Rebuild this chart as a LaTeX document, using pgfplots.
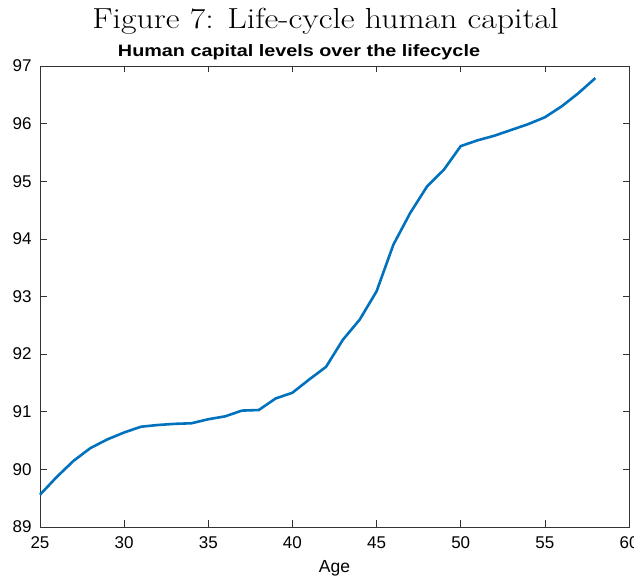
\documentclass[border=0pt]{standalone}
\usepackage{graphicx}
\usepackage{pgfplots}
\pgfplotsset{compat=1.18}
\usepackage{fontspec}
\newfontfamily\helv{Liberation Sans}
\definecolor{mblue}{rgb}{0,0.447,0.741}
\begin{document}
\begin{tikzpicture}
\begin{axis}[
  at={(0,0)}, anchor=south west,
  scale only axis, width=589pt, height=461pt,
  xmin=25, xmax=60, ymin=89, ymax=97,
  xtick={25,30,...,60}, ytick={89,90,...,97},
  tick align=inside, major tick length=6.5pt,
  tick style={black!80, line width=0.6pt},
  axis line style={black!80, line width=0.6pt},
  tick label style={font=\helv\fontsize{17}{19}\selectfont},
  /pgf/number format/assume math mode=true,
  xlabel={Age},
  xlabel style={font=\helv\fontsize{17.5}{19}\selectfont, at={(axis description cs:0.5,0)}, anchor=base, yshift=-46pt},
  xticklabel style={yshift=-6pt},
  yticklabel style={xshift=-5pt},
  clip=false,
]
\addplot[mblue, line width=2.6pt] coordinates {
(25,89.56) (26,89.87) (27,90.15) (28,90.37) (29,90.52) (30,90.64)
(31,90.74) (32,90.77) (33,90.79) (34,90.80) (35,90.87) (36,90.92)
(37,91.02) (38,91.03) (39,91.23) (40,91.33) (41,91.56) (42,91.78)
(43,92.25) (44,92.60) (45,93.09) (46,93.90) (47,94.45) (48,94.91)
(49,95.20) (50,95.61) (51,95.71) (52,95.79) (53,95.89) (54,95.99)
(55,96.11) (56,96.30) (57,96.53) (58,96.79)
};
\end{axis}
\node[font=\helv\bfseries\fontsize{16.5}{18}\selectfont, anchor=base] at (259pt,470.3pt) {\scalebox{1.2}[1]{Human capital levels over the lifecycle}};
\node[font=\fontsize{29}{33}\selectfont, anchor=base] at (285.5pt,498pt) {\scalebox{1.166}[1]{Figure 7: Life-cycle human capital}};
\pgfresetboundingbox
\path (-40pt,-50pt) rectangle (594pt,527pt);
\end{tikzpicture}
\end{document}
